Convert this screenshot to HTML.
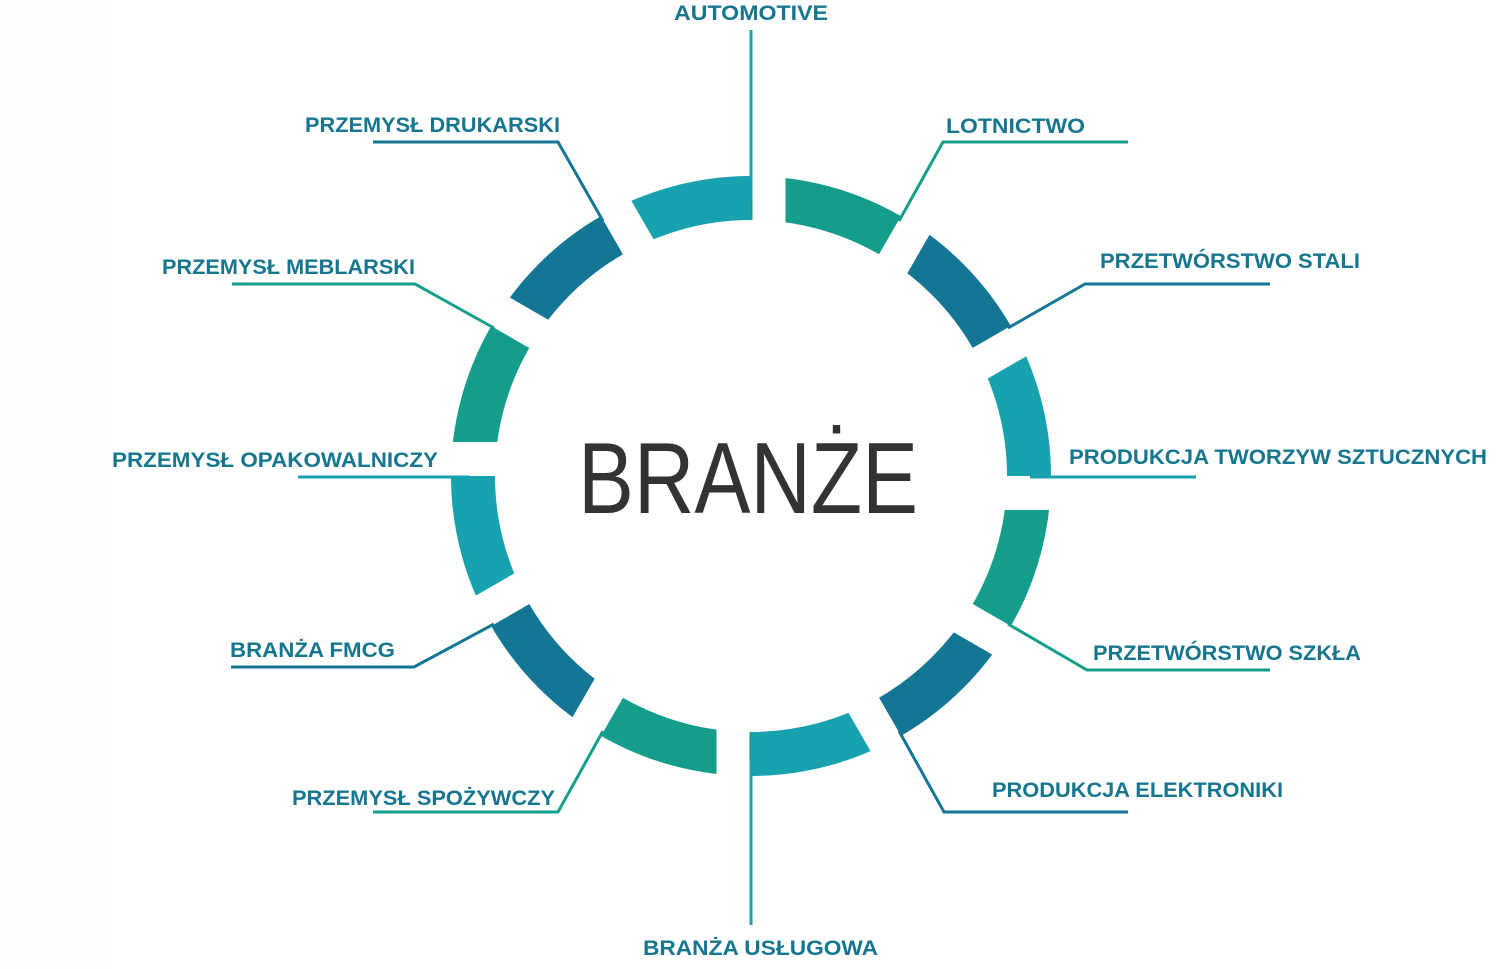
<!DOCTYPE html>
<html><head><meta charset="utf-8"><style>
html,body{margin:0;padding:0;background:#fff}
svg{display:block}
text{font-family:"Liberation Sans",sans-serif;font-weight:bold;fill:#17768f;font-size:21px}
</style></head><body>
<svg width="1503" height="969" viewBox="0 0 1503 969" xmlns="http://www.w3.org/2000/svg">
<rect x="0" y="0" width="110" height="969" fill="#fdfdfd"/>
<g transform="translate(751,476)">
<g fill="none" stroke-width="44">
<path d="M0,-278 A278,278 0 0,1 139,-240.8" stroke="#159d8b"/>
<path d="M139,-240.8 A278,278 0 0,1 240.8,-139" stroke="#127694"/>
<path d="M240.8,-139 A278,278 0 0,1 278,0" stroke="#18a2b0"/>
<path d="M278,0 A278,278 0 0,1 240.8,139" stroke="#159d8b"/>
<path d="M240.8,139 A278,278 0 0,1 139,240.8" stroke="#127694"/>
<path d="M139,240.8 A278,278 0 0,1 0,278" stroke="#18a2b0"/>
<path d="M0,278 A278,278 0 0,1 -139,240.8" stroke="#159d8b"/>
<path d="M-139,240.8 A278,278 0 0,1 -240.8,139" stroke="#127694"/>
<path d="M-240.8,139 A278,278 0 0,1 -278,0" stroke="#18a2b0"/>
<path d="M-278,0 A278,278 0 0,1 -240.8,-139" stroke="#159d8b"/>
<path d="M-240.8,-139 A278,278 0 0,1 -139,-240.8" stroke="#127694"/>
<path d="M-139,-240.8 A278,278 0 0,1 0,-278" stroke="#18a2b0"/>
</g>
<g fill="#fff">
<rect x="1.5" y="-310" width="33" height="250" transform="rotate(0)"/>
<rect x="0" y="-310" width="34" height="250" transform="rotate(30)"/>
<rect x="0" y="-310" width="34" height="250" transform="rotate(60)"/>
<rect x="0" y="-310" width="34" height="250" transform="rotate(90)"/>
<rect x="0" y="-310" width="34" height="250" transform="rotate(120)"/>
<rect x="0" y="-310" width="34" height="250" transform="rotate(150)"/>
<rect x="1.5" y="-310" width="33" height="250" transform="rotate(180)"/>
<rect x="0" y="-310" width="34" height="250" transform="rotate(210)"/>
<rect x="0" y="-310" width="34" height="250" transform="rotate(240)"/>
<rect x="0" y="-310" width="34" height="250" transform="rotate(270)"/>
<rect x="0" y="-310" width="34" height="250" transform="rotate(300)"/>
<rect x="0" y="-310" width="34" height="250" transform="rotate(330)"/>
</g>
</g>
<g fill="none" stroke-width="3">
<polyline points="751,30 751,200" stroke="#18a2b0"/>
<polyline points="899,221 943,142 1128,142" stroke="#159d8b"/>
<polyline points="1008,328 1085,284 1270,284" stroke="#127694"/>
<polyline points="1030,477 1196,477" stroke="#18a2b0"/>
<polyline points="1008,624 1087,670 1270,670" stroke="#159d8b"/>
<polyline points="899,731 944,812 1128,812" stroke="#127694"/>
<polyline points="751,760 751,925" stroke="#18a2b0"/>
<polyline points="603,731 558,812 373,812" stroke="#159d8b"/>
<polyline points="494,624 414,667 231,667" stroke="#127694"/>
<polyline points="298,477 470,477" stroke="#18a2b0"/>
<polyline points="494,328 415,284 232,284" stroke="#159d8b"/>
<polyline points="603,221 558,142 373,142" stroke="#127694"/>
</g>
<text x="578" y="513" style="font-weight:normal;font-size:101px;fill:#333" textLength="340" lengthAdjust="spacingAndGlyphs">BRANŻE</text>
<text x="674" y="20" textLength="154" lengthAdjust="spacingAndGlyphs">AUTOMOTIVE</text>
<text x="946" y="133" textLength="139" lengthAdjust="spacingAndGlyphs">LOTNICTWO</text>
<text x="1100" y="268" textLength="260" lengthAdjust="spacingAndGlyphs">PRZETWÓRSTWO STALI</text>
<text x="1069" y="464" textLength="418" lengthAdjust="spacingAndGlyphs">PRODUKCJA TWORZYW SZTUCZNYCH</text>
<text x="1093" y="660" textLength="268" lengthAdjust="spacingAndGlyphs">PRZETWÓRSTWO SZKŁA</text>
<text x="992" y="797" textLength="291" lengthAdjust="spacingAndGlyphs">PRODUKCJA ELEKTRONIKI</text>
<text x="643" y="955" textLength="235" lengthAdjust="spacingAndGlyphs">BRANŻA USŁUGOWA</text>
<text x="292" y="805" textLength="263" lengthAdjust="spacingAndGlyphs">PRZEMYSŁ SPOŻYWCZY</text>
<text x="230" y="657" textLength="165" lengthAdjust="spacingAndGlyphs">BRANŻA FMCG</text>
<text x="112" y="467" textLength="326" lengthAdjust="spacingAndGlyphs">PRZEMYSŁ OPAKOWALNICZY</text>
<text x="162" y="274" textLength="253" lengthAdjust="spacingAndGlyphs">PRZEMYSŁ MEBLARSKI</text>
<text x="305" y="132" textLength="255" lengthAdjust="spacingAndGlyphs">PRZEMYSŁ DRUKARSKI</text>
</svg>
</body></html>
